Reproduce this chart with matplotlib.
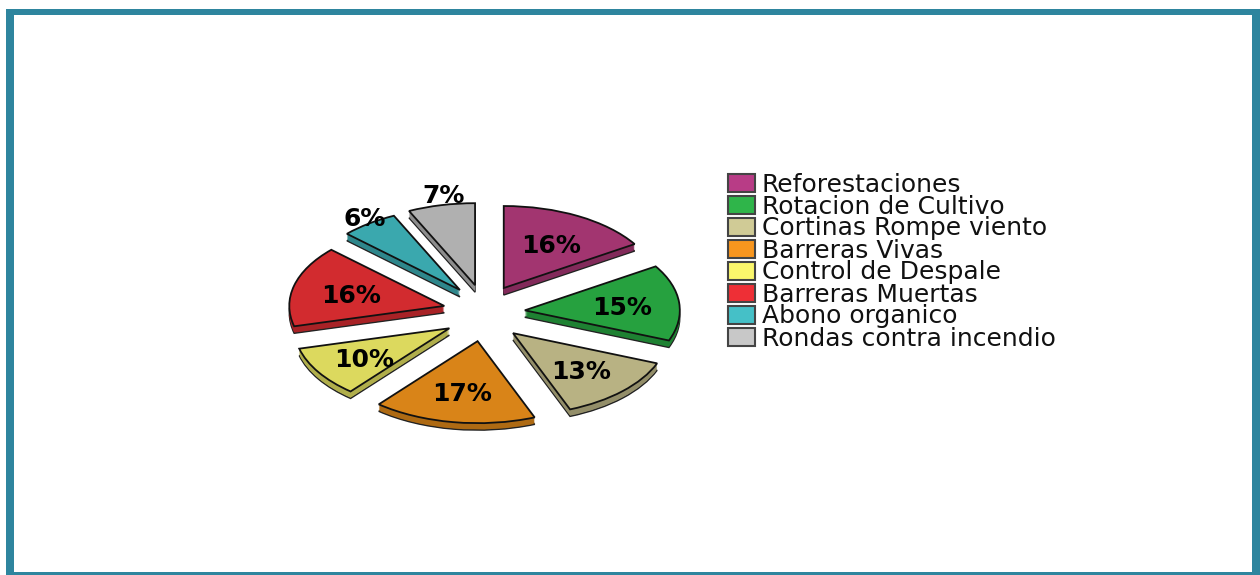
import matplotlib.pyplot as plt
import matplotlib.colors as mcolors
from matplotlib.patches import Patch, Rectangle
import numpy as np

# values
categories = ['Reforestaciones', 'Rotacion de Cultivo', 'Cortinas Rompe viento', 'Barreras Vivas',
              'Control de Despale', 'Barreras Muertas', 'Abono organico', 'Rondas contra incendio']
values = [16, 15, 13, 17, 10, 16, 6, 7]

# slice colours and the slightly brighter legend colours
slice_colors = ['#a23570', '#26a13f', '#b8b283', '#d98418', '#dcd95e', '#d22b2f', '#3aa8ae', '#b0b0b0']
legend_colors = ['#b83c86', '#2fb54a', '#d0cb96', '#f8961e', '#fbf76c', '#ee2f36', '#45c0c7', '#c8c8c8']

# how far out each percent label sits along its slice, across and down
label_dist_x = [0.63, 0.63, 0.62, 0.62, 0.65, 0.62, 1.05, 0.92]
label_dist_y = [0.62, 0.63, 0.62, 0.62, 0.65, 0.62, 1.12, 1.15]

W, H = 1260, 575
fig = plt.figure(figsize=(W / 100, H / 100), dpi=100)
fig.patch.set_facecolor('white')

# teal frame around the picture, the bands are not the same width
frame = [(6, 9, 1254, 6), (6, 9, 8, 566), (1252, 9, 8, 566), (6, 572, 1254, 3)]
for x, y, w, h in frame:
    fig.add_artist(Rectangle((x / W, 1 - (y + h) / H), w / W, h / H, transform=fig.transFigure,
                             facecolor='#2e859e', edgecolor='none'))

# squashed pie: one data unit is 155 px across and 82 px down
cx, cy, rx, ry = 484, 313, 155, 82
ax = fig.add_axes([(cx - 1.5 * rx) / W, 1 - (cy + 1.5 * ry) / H, 3 * rx / W, 3 * ry / H])

offset_x = 41 / rx
offset_y = 28.5 / ry
depth = 7

# mid angle of each slice, clockwise from the top
shares = np.array(values) / sum(values)
mids = 2 * np.pi * (np.cumsum(shares) - shares / 2)


def draw_layer(colors, drop, edge, lw):
    wedges, _ = ax.pie(values, colors=colors, startangle=90, counterclock=False,
                       wedgeprops={'edgecolor': edge, 'linewidth': lw})
    for w, m in zip(wedges, mids):
        w.set_center((offset_x * np.sin(m), offset_y * np.cos(m) - drop / ry))


# side of the slices, stacked from the bottom up
side_colors = [tuple(0.8 * c for c in mcolors.to_rgb(s)) for s in slice_colors]
draw_layer(side_colors, depth, '#222222', 1.0)
for d in range(depth - 1, 0, -1):
    draw_layer(side_colors, d, 'none', 0)
draw_layer(slice_colors, 0, '#111111', 1.3)

ax.set_aspect('auto')
ax.set_xlim(-1.5, 1.5)
ax.set_ylim(-1.5, 1.5)
ax.axis('off')

for v, m, dx, dy in zip(values, mids, label_dist_x, label_dist_y):
    ax.text(offset_x * np.sin(m) + dx * np.sin(m), offset_y * np.cos(m) + dy * np.cos(m) - 3 / ry, str(v) + '%',
            ha='center', va='center', fontsize=18, fontweight='bold', family='DejaVu Sans', color='black')

handles = [Patch(facecolor=c, edgecolor='#444444', linewidth=1.5) for c in legend_colors]
fig.legend(handles, categories, loc='upper left', bbox_to_anchor=(710 / W, 1 - 155 / H), frameon=False,
           prop={'family': 'DejaVu Sans', 'size': 18}, handlelength=1.08, handleheight=0.72,
           handletextpad=0.3, labelspacing=-0.08, borderpad=0.2, labelcolor='#111111')

plt.savefig('out.png', dpi=100)
